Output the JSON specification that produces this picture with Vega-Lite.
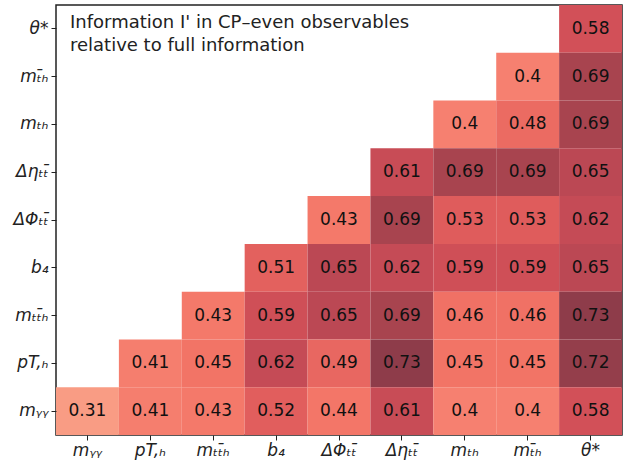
{
  "$schema": "https://vega.github.io/schema/vega-lite/v6.json",
  "autosize": "none",
  "width": 566,
  "height": 430,
  "padding": {"left": 56, "top": 5, "right": 9, "bottom": 33},
  "background": "white",
  "config": {
    "view": {"stroke": "#222", "strokeWidth": 1.5},
    "font": "DejaVu Sans"
  },
  "datasets": {
    "cells": [
      {"row": "θ*", "col": "θ*", "v": 0.58},
      {"row": "mₜ̄ₕ", "col": "mₜ̄ₕ", "v": 0.4},
      {"row": "mₜ̄ₕ", "col": "θ*", "v": 0.69},
      {"row": "mₜₕ", "col": "mₜₕ", "v": 0.4},
      {"row": "mₜₕ", "col": "mₜ̄ₕ", "v": 0.48},
      {"row": "mₜₕ", "col": "θ*", "v": 0.69},
      {"row": "Δηₜₜ̄", "col": "Δηₜₜ̄", "v": 0.61},
      {"row": "Δηₜₜ̄", "col": "mₜₕ", "v": 0.69},
      {"row": "Δηₜₜ̄", "col": "mₜ̄ₕ", "v": 0.69},
      {"row": "Δηₜₜ̄", "col": "θ*", "v": 0.65},
      {"row": "ΔΦₜₜ̄", "col": "ΔΦₜₜ̄", "v": 0.43},
      {"row": "ΔΦₜₜ̄", "col": "Δηₜₜ̄", "v": 0.69},
      {"row": "ΔΦₜₜ̄", "col": "mₜₕ", "v": 0.53},
      {"row": "ΔΦₜₜ̄", "col": "mₜ̄ₕ", "v": 0.53},
      {"row": "ΔΦₜₜ̄", "col": "θ*", "v": 0.62},
      {"row": "b₄", "col": "b₄", "v": 0.51},
      {"row": "b₄", "col": "ΔΦₜₜ̄", "v": 0.65},
      {"row": "b₄", "col": "Δηₜₜ̄", "v": 0.62},
      {"row": "b₄", "col": "mₜₕ", "v": 0.59},
      {"row": "b₄", "col": "mₜ̄ₕ", "v": 0.59},
      {"row": "b₄", "col": "θ*", "v": 0.65},
      {"row": "mₜₜ̄ₕ", "col": "mₜₜ̄ₕ", "v": 0.43},
      {"row": "mₜₜ̄ₕ", "col": "b₄", "v": 0.59},
      {"row": "mₜₜ̄ₕ", "col": "ΔΦₜₜ̄", "v": 0.65},
      {"row": "mₜₜ̄ₕ", "col": "Δηₜₜ̄", "v": 0.69},
      {"row": "mₜₜ̄ₕ", "col": "mₜₕ", "v": 0.46},
      {"row": "mₜₜ̄ₕ", "col": "mₜ̄ₕ", "v": 0.46},
      {"row": "mₜₜ̄ₕ", "col": "θ*", "v": 0.73},
      {"row": "pT,ₕ", "col": "pT,ₕ", "v": 0.41},
      {"row": "pT,ₕ", "col": "mₜₜ̄ₕ", "v": 0.45},
      {"row": "pT,ₕ", "col": "b₄", "v": 0.62},
      {"row": "pT,ₕ", "col": "ΔΦₜₜ̄", "v": 0.49},
      {"row": "pT,ₕ", "col": "Δηₜₜ̄", "v": 0.73},
      {"row": "pT,ₕ", "col": "mₜₕ", "v": 0.45},
      {"row": "pT,ₕ", "col": "mₜ̄ₕ", "v": 0.45},
      {"row": "pT,ₕ", "col": "θ*", "v": 0.72},
      {"row": "mᵧᵧ", "col": "mᵧᵧ", "v": 0.31},
      {"row": "mᵧᵧ", "col": "pT,ₕ", "v": 0.41},
      {"row": "mᵧᵧ", "col": "mₜₜ̄ₕ", "v": 0.43},
      {"row": "mᵧᵧ", "col": "b₄", "v": 0.52},
      {"row": "mᵧᵧ", "col": "ΔΦₜₜ̄", "v": 0.44},
      {"row": "mᵧᵧ", "col": "Δηₜₜ̄", "v": 0.61},
      {"row": "mᵧᵧ", "col": "mₜₕ", "v": 0.4},
      {"row": "mᵧᵧ", "col": "mₜ̄ₕ", "v": 0.4},
      {"row": "mᵧᵧ", "col": "θ*", "v": 0.58}
    ],
    "note": [
      {"row": "θ*", "col": "mᵧᵧ", "text": ["Information I' in CP–even observables", "relative to full information"]}
    ]
  },
  "layer": [
    {
      "data": {"name": "cells"},
      "mark": {"type": "rect"},
      "encoding": {
        "x": {"field": "col", "type": "nominal", "sort": ["mᵧᵧ", "pT,ₕ", "mₜₜ̄ₕ", "b₄", "ΔΦₜₜ̄", "Δηₜₜ̄", "mₜₕ", "mₜ̄ₕ", "θ*"],
              "scale": {"paddingInner": 0, "paddingOuter": 0},
              "axis": {"title": null, "labelAngle": 0, "domain": false, "tickColor": "#222", "tickSize": 5, "labelFontSize": 17, "labelFontStyle": "italic", "labelColor": "#222", "labelPadding": 2}},
        "y": {"field": "row", "type": "nominal", "sort": ["θ*", "mₜ̄ₕ", "mₜₕ", "Δηₜₜ̄", "ΔΦₜₜ̄", "b₄", "mₜₜ̄ₕ", "pT,ₕ", "mᵧᵧ"],
              "scale": {"paddingInner": 0, "paddingOuter": 0},
              "axis": {"title": null, "domain": false, "tickColor": "#222", "tickSize": 5, "labelFontSize": 17, "labelFontStyle": "italic", "labelColor": "#222", "labelPadding": 3}},
        "color": {"field": "v", "type": "quantitative", "legend": null,
                  "scale": {"domain": [0.31, 0.4, 0.45, 0.52, 0.58, 0.61, 0.65, 0.69, 0.73],
                            "range": ["#f99c84", "#f68070", "#f27466", "#e15e5d", "#d25058", "#c84c56", "#bb4854", "#a8444f", "#8e3c4a"]}}
      }
    },
    {
      "data": {"name": "cells"},
      "mark": {"type": "text", "fontSize": 17, "color": "#111"},
      "encoding": {
        "x": {"field": "col", "type": "nominal", "sort": ["mᵧᵧ", "pT,ₕ", "mₜₜ̄ₕ", "b₄", "ΔΦₜₜ̄", "Δηₜₜ̄", "mₜₕ", "mₜ̄ₕ", "θ*"]},
        "y": {"field": "row", "type": "nominal", "sort": ["θ*", "mₜ̄ₕ", "mₜₕ", "Δηₜₜ̄", "ΔΦₜₜ̄", "b₄", "mₜₜ̄ₕ", "pT,ₕ", "mᵧᵧ"]},
        "text": {"field": "v", "type": "quantitative"}
      }
    },
    {
      "data": {"name": "note"},
      "mark": {"type": "text", "align": "left", "baseline": "top", "fontSize": 18, "color": "#222", "dx": 14, "dy": 9, "lineHeight": 23},
      "encoding": {
        "x": {"field": "col", "type": "nominal", "bandPosition": 0, "sort": ["mᵧᵧ", "pT,ₕ", "mₜₜ̄ₕ", "b₄", "ΔΦₜₜ̄", "Δηₜₜ̄", "mₜₕ", "mₜ̄ₕ", "θ*"]},
        "y": {"field": "row", "type": "nominal", "bandPosition": 0, "sort": ["θ*", "mₜ̄ₕ", "mₜₕ", "Δηₜₜ̄", "ΔΦₜₜ̄", "b₄", "mₜₜ̄ₕ", "pT,ₕ", "mᵧᵧ"]},
        "text": {"field": "text"}
      }
    }
  ]
}
